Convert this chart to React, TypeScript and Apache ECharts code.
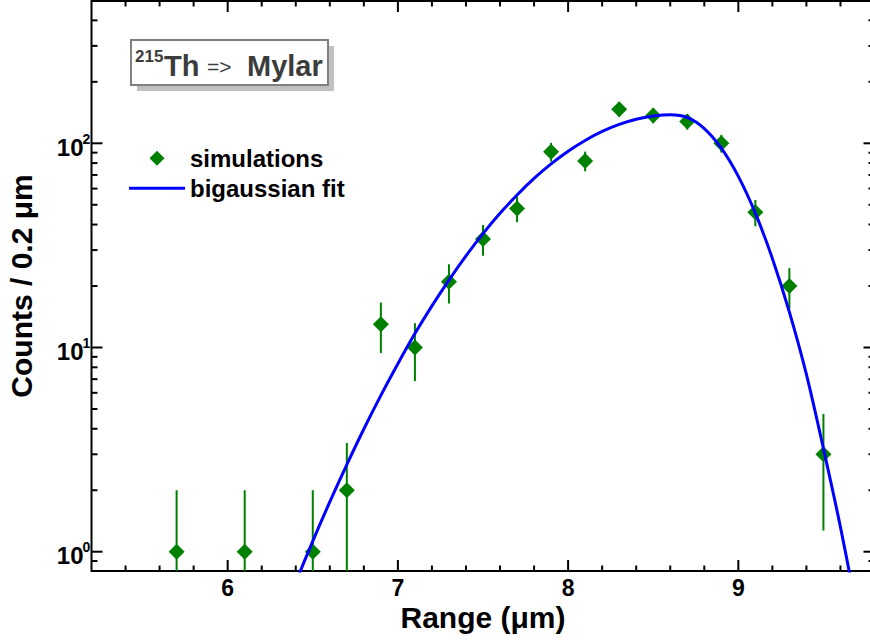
import React, { useEffect, useRef } from "react";
import * as echarts from "echarts";

// ---- data ----
const binCenters = [5.7, 6.1, 6.5, 6.7, 6.9, 7.1, 7.3, 7.5, 7.7, 7.9, 8.1, 8.3, 8.5, 8.7, 8.9, 9.1, 9.3, 9.5];
const counts = [1, 1, 1, 2, 13, 10, 21, 34, 48, 91, 82, 147, 137, 128, 100, 46, 20, 3];
const countErrors = [1, 1, 1, 1.41, 3.61, 3.16, 4.58, 5.83, 6.93, 9.54, 9.06, 12.1, 11.7, 11.3, 10, 6.78, 4.47, 1.73];

const fitX = [6.3, 6.4, 6.5, 6.6, 6.7, 6.8, 6.9, 7.0, 7.1, 7.2, 7.3, 7.4, 7.5, 7.6, 7.7, 7.8, 7.9, 8.0, 8.1, 8.2, 8.3, 8.4, 8.5, 8.6, 8.7, 8.8, 8.9, 9.0, 9.1, 9.2, 9.3, 9.4, 9.5, 9.6, 9.7, 9.8];
const fitY = [0.436, 0.708, 1.127, 1.754, 2.67, 3.99, 5.83, 8.33, 11.7, 16.0, 21.4, 28.1, 36.1, 45.4, 55.8, 67.3, 79.3, 91.5, 103.3, 114.3, 123.7, 131.2, 135.9, 138.0, 133.9, 118.1, 94.7, 68.9, 45.5, 27.3, 14.9, 7.38, 3.2, 1.32, 0.49, 0.17];

const xMajorTicks = [6, 7, 8, 9];
const xTickLabels = ["6", "7", "8", "9"];
const xMinorTicks = [5.4, 5.6, 5.8, 6.2, 6.4, 6.6, 6.8, 7.2, 7.4, 7.6, 7.8, 8.2, 8.4, 8.6, 8.8, 9.2, 9.4, 9.6];
const yMajorTicks = [1, 10, 100];
const yTickExponents = ["0", "1", "2"];
const yMinorTicks = [0.9, 2, 3, 4, 5, 6, 7, 8, 9, 20, 30, 40, 50, 60, 70, 80, 90, 200, 300, 400];

const X_MIN = 5.2;
const X_MAX = 9.8;
const Y_MIN = 0.8045;
const Y_MAX = 497.6;

const FONT = "'Liberation Sans', Arial, Helvetica, sans-serif";
const GREEN = "#008000";
const BLUE = "#0000ff";
const DIAMOND = "path://M0,-1L1,0L0,1L-1,0Z";
const BAR = "path://M0,0H56V3H0Z";

export default function App() {
  const ref = useRef<HTMLDivElement>(null);

  useEffect(() => {
    if (!ref.current) return;
    const chart = echarts.init(ref.current, undefined, { renderer: "svg" });

    const option: any = {
      animation: false,
      backgroundColor: "#ffffff",
      grid: {
        left: 91.5,
        right: -4.5,
        top: 1,
        bottom: 70,
        show: true,
        borderColor: "#000",
        borderWidth: 2,
        backgroundColor: "transparent",
        outerBoundsMode: "none",
      },
      legend: {
        orient: "vertical",
        left: 129,
        top: 146.3,
        padding: 0,
        itemGap: 6,
        itemWidth: 56,
        itemHeight: 15,
        symbolKeepAspect: true,
        selectedMode: false,
        data: [
          { name: "simulations", icon: DIAMOND, itemStyle: { color: GREEN } },
          { name: "bigaussian fit", icon: BAR, itemStyle: { color: BLUE } },
        ],
        textStyle: { fontFamily: FONT, fontWeight: "bold", fontSize: 24, color: "#000", lineHeight: 24 },
      },
      xAxis: {
        type: "value",
        min: X_MIN,
        max: X_MAX,
        axisLine: { show: false },
        axisTick: { show: false },
        axisLabel: { show: false },
        splitLine: { show: false },
        name: "Range (\u03bcm)",
        nameLocation: "middle",
        nameGap: 31.5,
        nameTextStyle: { fontFamily: FONT, fontWeight: "bold", fontSize: 30, color: "#000", lineHeight: 30 },
      },
      yAxis: {
        type: "log",
        logBase: 10,
        min: Y_MIN,
        max: Y_MAX,
        axisLine: { show: false },
        axisTick: { show: false },
        axisLabel: { show: false },
        splitLine: { show: false },
        minorTick: { show: false },
        name: "Counts / 0.2 \u03bcm",
        nameLocation: "middle",
        nameRotate: 90,
        nameGap: 55,
        nameTextStyle: { fontFamily: FONT, fontWeight: "bold", fontSize: 30, color: "#000", lineHeight: 30 },
      },
      graphic: [
        { type: "rect", shape: { x: 137, y: 46, width: 197, height: 45 }, style: { fill: "#c0c0c0" }, z: 10 },
        { type: "rect", shape: { x: 131, y: 40, width: 197, height: 45 }, style: { fill: "#fff", stroke: "#808080", lineWidth: 2 }, z: 11 },
        { type: "text", x: 135, y: 56, style: { text: "215", fontFamily: FONT, fontWeight: "bold", fontSize: 17, fill: "#3c3c3c", align: "left", verticalAlign: "middle" }, z: 12 },
        { type: "text", x: 164, y: 66, style: { text: "Th", fontFamily: FONT, fontWeight: "bold", fontSize: 29, fill: "#3c3c3c", align: "left", verticalAlign: "middle" }, z: 12 },
        { type: "text", x: 207, y: 66, style: { text: "=>", fontFamily: FONT, fontWeight: "normal", fontSize: 21, fill: "#3c3c3c", align: "left", verticalAlign: "middle" }, z: 12 },
        { type: "text", x: 247, y: 66, style: { text: "Mylar", fontFamily: FONT, fontWeight: "bold", fontSize: 29, fill: "#3c3c3c", align: "left", verticalAlign: "middle" }, z: 12 },
      ],
      series: [
        {
          type: "custom",
          name: "xticks",
          silent: true,
          coordinateSystem: "cartesian2d",
          data: [...xMajorTicks.map((v) => [v, 1, 1]), ...xMinorTicks.map((v) => [v, 1, 0])],
          encode: { x: 0, y: 1 },
          renderItem: (params: any, api: any) => {
            const cs = params.coordSys;
            const px = api.coord([api.value(0), 1])[0];
            const len = api.value(2) === 1 ? 11 : 5.5;
            const bottom = cs.y + cs.height;
            const top = cs.y;
            return {
              type: "group",
              children: [
                { type: "line", shape: { x1: px, y1: bottom, x2: px, y2: bottom - len }, style: { stroke: "#000", lineWidth: 2 } },
                { type: "line", shape: { x1: px, y1: top, x2: px, y2: top + len }, style: { stroke: "#000", lineWidth: 2 } },
              ],
            };
          },
        },
        {
          type: "custom",
          name: "yticks",
          silent: true,
          coordinateSystem: "cartesian2d",
          data: [...yMajorTicks.map((v) => [6, v, 1]), ...yMinorTicks.map((v) => [6, v, 0])],
          encode: { x: 0, y: 1 },
          renderItem: (params: any, api: any) => {
            const cs = params.coordSys;
            const py = api.coord([6, api.value(1)])[1];
            const len = api.value(2) === 1 ? 11 : 6;
            const left = cs.x;
            const right = cs.x + cs.width;
            return {
              type: "group",
              children: [
                { type: "line", shape: { x1: left, y1: py, x2: left + len, y2: py }, style: { stroke: "#000", lineWidth: 2 } },
                { type: "line", shape: { x1: right, y1: py, x2: right - len, y2: py }, style: { stroke: "#000", lineWidth: 2 } },
              ],
            };
          },
        },
        {
          type: "custom",
          name: "xlabels",
          silent: true,
          coordinateSystem: "cartesian2d",
          data: xMajorTicks.map((v, i) => [v, 1, i]),
          encode: { x: 0, y: 1 },
          renderItem: (params: any, api: any) => {
            const cs = params.coordSys;
            const px = api.coord([api.value(0), 1])[0];
            return {
              type: "text",
              x: px,
              y: cs.y + cs.height + 17,
              style: {
                text: xTickLabels[api.value(2)],
                fontFamily: FONT,
                fontWeight: "bold",
                fontSize: 23,
                fill: "#000",
                align: "center",
                verticalAlign: "middle",
              },
            };
          },
        },
        {
          type: "custom",
          name: "ylabels",
          silent: true,
          coordinateSystem: "cartesian2d",
          data: yMajorTicks.map((v, i) => [6, v, i]),
          encode: { x: 0, y: 1 },
          renderItem: (params: any, api: any) => {
            const cs = params.coordSys;
            const py = api.coord([6, api.value(1)])[1];
            return {
              type: "group",
              children: [
                {
                  type: "text",
                  x: cs.x - 8,
                  y: py + 4,
                  style: { text: "10", fontFamily: FONT, fontWeight: "bold", fontSize: 24, fill: "#000", align: "right", verticalAlign: "middle" },
                },
                {
                  type: "text",
                  x: cs.x - 9,
                  y: py - 4.5,
                  style: { text: yTickExponents[api.value(2)], fontFamily: FONT, fontWeight: "bold", fontSize: 14, fill: "#000", align: "left", verticalAlign: "middle" },
                },
              ],
            };
          },
        },
        {
          type: "custom",
          name: "errors",
          silent: true,
          coordinateSystem: "cartesian2d",
          data: binCenters.map((x, i) => [x, counts[i], countErrors[i]]),
          encode: { x: 0, y: 1 },
          renderItem: (params: any, api: any) => {
            const cs = params.coordSys;
            const x = api.value(0);
            const y = api.value(1);
            const e = api.value(2);
            const topPt = api.coord([x, y + e]);
            const lo = y - e;
            const bottomY = lo > Y_MIN ? api.coord([x, lo])[1] : cs.y + cs.height;
            return {
              type: "line",
              shape: { x1: topPt[0], y1: Math.max(topPt[1], cs.y), x2: topPt[0], y2: bottomY },
              style: { stroke: GREEN, lineWidth: 2 },
            };
          },
        },
        {
          type: "scatter",
          name: "simulations",
          data: binCenters.map((x, i) => [x, counts[i]]),
          symbol: DIAMOND,
          symbolSize: [16, 16],
          symbolKeepAspect: false,
          itemStyle: { color: GREEN, opacity: 1 },
          silent: true,
        },
        {
          type: "line",
          name: "bigaussian fit",
          data: fitX.map((x, i) => [x, fitY[i]]),
          symbol: "none",
          showSymbol: false,
          smooth: 0.3,
          clip: true,
          lineStyle: { color: BLUE, width: 3 },
          itemStyle: { color: BLUE },
          silent: true,
          z: 3,
        },
      ],
    };

    chart.setOption(option);
    return () => chart.dispose();
  }, []);

  return (
    <div
      ref={ref}
      style={{ position: "fixed", left: 0, top: 0, width: 870, height: 641, background: "#fff" }}
    />
  );
}
